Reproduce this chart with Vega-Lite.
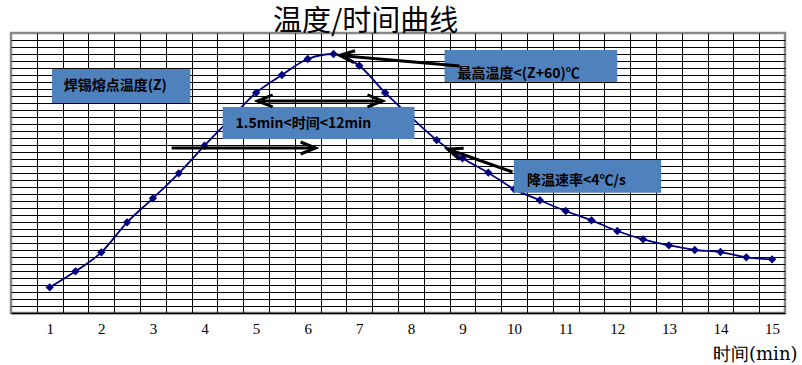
{
  "$schema": "https://vega.github.io/schema/vega-lite/v6.json",
  "width": 774,
  "height": 280,
  "autosize": {"type": "none"},
  "padding": {"left": 11, "top": 33, "right": 17, "bottom": 52},
  "background": "white",
  "title": {"text": "温度/时间曲线", "anchor": "start", "dx": 262, "offset": -4, "fontSize": 29, "font": "Noto Sans CJK SC", "fontWeight": "normal", "color": "#000000"},
  "config": {"view": {"stroke": "#888888", "strokeWidth": 2.5}},
  "datasets": {
    "curve": [
      {"t": 1, "temp": 3.67}, {"t": 1.5, "temp": 5.95}, {"t": 2, "temp": 8.67}, {"t": 2.5, "temp": 12.95},
      {"t": 3, "temp": 16.38}, {"t": 3.5, "temp": 19.95}, {"t": 4, "temp": 23.9}, {"t": 4.5, "temp": 27.7},
      {"t": 5, "temp": 31.47}, {"t": 5.5, "temp": 34.0}, {"t": 6, "temp": 36.29}, {"t": 6.5, "temp": 37.0},
      {"t": 7, "temp": 35.33}, {"t": 7.5, "temp": 31.47}, {"t": 8, "temp": 28.0}, {"t": 8.5, "temp": 24.7},
      {"t": 9, "temp": 22.1}, {"t": 9.5, "temp": 20.05}, {"t": 10, "temp": 17.7}, {"t": 10.5, "temp": 16.1},
      {"t": 11, "temp": 14.57}, {"t": 11.5, "temp": 13.24}, {"t": 12, "temp": 11.71}, {"t": 12.5, "temp": 10.52},
      {"t": 13, "temp": 9.67}, {"t": 13.5, "temp": 9.0}, {"t": 14, "temp": 8.71}, {"t": 14.5, "temp": 7.95},
      {"t": 15, "temp": 7.67}
    ],
    "notes": [
      {"label": "焊锡熔点温度(Z)", "x1": 1.045, "x2": 3.726, "y1": 34.86, "y2": 30.0, "tx": 1.27, "ty": 32.43},
      {"label": "1.5min<时间<12min", "x1": 4.351, "x2": 8.071, "y1": 29.43, "y2": 24.86, "tx": 4.603, "ty": 27.0},
      {"label": "最高温度<(Z+60)℃", "x1": 8.652, "x2": 11.998, "y1": 37.57, "y2": 33.0, "tx": 8.904, "ty": 34.19},
      {"label": "降温速率<4℃/s", "x1": 9.995, "x2": 12.85, "y1": 21.86, "y2": 17.19, "tx": 10.25, "ty": 18.86}
    ],
    "arrows": [
      {"arrow": "a1", "x": 8.943, "y": 35.29, "xe": 6.618, "ye": 36.79},
      {"arrow": "a2", "x": 5.03, "y": 30.29, "xe": 7.45, "ye": 30.29},
      {"arrow": "a3", "x": 3.363, "y": 23.57, "xe": 6.153, "ye": 23.57},
      {"arrow": "a4", "x": 9.969, "y": 20.14, "xe": 8.71, "ye": 23.43}
    ],
    "heads": [
      {"arrow": "a1", "x": 6.618, "y": 36.79},
      {"arrow": "a2l", "x": 5.03, "y": 30.29},
      {"arrow": "a2r", "x": 7.45, "y": 30.29},
      {"arrow": "a3", "x": 6.153, "y": 23.57},
      {"arrow": "a4", "x": 8.71, "y": 23.43}
    ]
  },
  "layer": [
    {
      "data": {"name": "curve"},
      "mark": {"type": "line", "color": "#000080", "strokeWidth": 1.8, "interpolate": "monotone"},
      "encoding": {
        "x": {"field": "t", "type": "quantitative",
          "scale": {"domain": [0.25, 15.25], "nice": false, "zero": false},
          "axis": {"orient": "top", "values": [0.75,1.25,1.75,2.25,2.75,3.25,3.75,4.25,4.75,5.25,5.75,6.25,6.75,7.25,7.75,8.25,8.75,9.25,9.75,10.25,10.75,11.25,11.75,12.25,12.75,13.25,13.75,14.25,14.75],
            "grid": true, "gridColor": "#000000", "gridOpacity": 1, "gridWidth": 1, "labels": false, "ticks": false, "domain": false, "title": null}},
        "y": {"field": "temp", "type": "quantitative",
          "scale": {"domain": [0, 40], "nice": false, "zero": false},
          "axis": {"orient": "left", "values": [1,2,3,4,5,6,7,8,9,10,11,12,13,14,15,16,17,18,19,20,21,22,23,24,25,26,27,28,29,30,31,32,33,34,35,36,37,38,39],
            "grid": true, "gridColor": "#000000", "gridOpacity": 1, "gridWidth": 1, "labels": false, "ticks": false, "domain": false, "title": null}}
      }
    },
    {
      "data": {"name": "curve"},
      "mark": {"type": "point", "shape": "diamond", "filled": true, "color": "#000080", "size": 70, "opacity": 1},
      "encoding": {
        "x": {"field": "t", "type": "quantitative",
          "axis": {"orient": "bottom", "values": [1,2,3,4,5,6,7,8,9,10,11,12,13,14,15], "grid": false, "ticks": false,
            "domain": true, "domainColor": "#000000", "domainWidth": 1.5,
            "labelFont": "Liberation Serif", "labelFontSize": 15, "labelColor": "#000000", "labelPadding": 8,
            "title": "时间(min)", "titleFont": "DejaVu Serif", "titleFontSize": 18, "titleFontWeight": "normal", "titleColor": "#000000",
            "titleX": 786, "titleY": 41, "titleAlign": "right", "titleBaseline": "middle"}},
        "y": {"field": "temp", "type": "quantitative", "axis": null}
      }
    },
    {
      "data": {"name": "notes"},
      "mark": {"type": "rect", "color": "#4F81BD", "opacity": 1},
      "encoding": {
        "x": {"field": "x1", "type": "quantitative", "axis": null},
        "x2": {"field": "x2"},
        "y": {"field": "y1", "type": "quantitative", "axis": null},
        "y2": {"field": "y2"}
      }
    },
    {
      "data": {"name": "arrows"},
      "mark": {"type": "rule", "color": "#000000", "strokeWidth": 3},
      "encoding": {
        "x": {"field": "x", "type": "quantitative", "axis": null},
        "x2": {"field": "xe"},
        "y": {"field": "y", "type": "quantitative", "axis": null},
        "y2": {"field": "ye"}
      }
    },
    {
      "data": {"name": "heads"},
      "transform": [{"filter": "datum.arrow == 'a2r' || datum.arrow == 'a3'"}],
      "mark": {"type": "point", "shape": "M-2,-0.8L0,0L-2,0.8", "filled": false, "color": "#000000", "strokeWidth": 3, "size": 225, "opacity": 1, "angle": 0, "strokeJoin": "miter"},
      "encoding": {
        "x": {"field": "x", "type": "quantitative", "axis": null},
        "y": {"field": "y", "type": "quantitative", "axis": null}
      }
    },
    {
      "data": {"name": "heads"},
      "transform": [{"filter": "datum.arrow == 'a2l'"}],
      "mark": {"type": "point", "shape": "M-2,-0.8L0,0L-2,0.8", "filled": false, "color": "#000000", "strokeWidth": 3, "size": 225, "opacity": 1, "angle": 180, "strokeJoin": "miter"},
      "encoding": {
        "x": {"field": "x", "type": "quantitative", "axis": null},
        "y": {"field": "y", "type": "quantitative", "axis": null}
      }
    },
    {
      "data": {"name": "heads"},
      "transform": [{"filter": "datum.arrow == 'a1'"}],
      "mark": {"type": "point", "shape": "M-2,-0.8L0,0L-2,0.8", "filled": false, "color": "#000000", "strokeWidth": 3, "size": 225, "opacity": 1, "angle": 185, "strokeJoin": "miter"},
      "encoding": {
        "x": {"field": "x", "type": "quantitative", "axis": null},
        "y": {"field": "y", "type": "quantitative", "axis": null}
      }
    },
    {
      "data": {"name": "heads"},
      "transform": [{"filter": "datum.arrow == 'a4'"}],
      "mark": {"type": "point", "shape": "M-2,-0.8L0,0L-2,0.8", "filled": false, "color": "#000000", "strokeWidth": 3, "size": 225, "opacity": 1, "angle": 199.5, "strokeJoin": "miter"},
      "encoding": {
        "x": {"field": "x", "type": "quantitative", "axis": null},
        "y": {"field": "y", "type": "quantitative", "axis": null}
      }
    },
    {
      "data": {"name": "notes"},
      "mark": {"type": "text", "align": "left", "baseline": "middle", "font": "Noto Sans CJK SC", "fontWeight": "bold", "fontSize": 14, "color": "#000000"},
      "encoding": {
        "x": {"field": "tx", "type": "quantitative", "axis": null},
        "y": {"field": "ty", "type": "quantitative", "axis": null},
        "text": {"field": "label"}
      }
    }
  ],
  "resolve": {"axis": {"x": "independent", "y": "independent"}}
}
